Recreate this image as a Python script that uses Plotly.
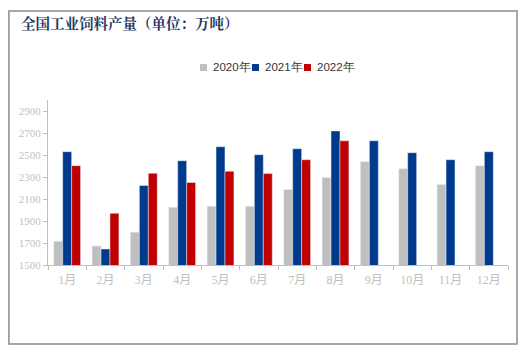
import plotly.graph_objects as go

months = ["1月", "2月", "3月", "4月", "5月", "6月", "7月", "8月", "9月", "10月", "11月", "12月"]
y2020 = [1717, 1672, 1798, 2024, 2033, 2033, 2186, 2295, 2439, 2376, 2232, 2403]
y2021 = [2530, 1645, 2223, 2448, 2575, 2503, 2557, 2719, 2629, 2521, 2457, 2530]
y2022 = [2403, 1970, 2334, 2250, 2352, 2331, 2457, 2629, None, None, None, None]
yticks = [1500, 1700, 1900, 2100, 2300, 2500, 2700, 2900]
series_names = ["2020年", "2021年", "2022年"]
series_colors = ["#bfbfbf", "#003a8c", "#c00000"]

fig = go.Figure()
for name, vals, col in zip(series_names, [y2020, y2021, y2022], series_colors):
    fig.add_bar(x=months, y=vals, name=name, marker_color=col, showlegend=False)

# compact legend (symbols + labels) placed like the original
shapes = [dict(type="rect", xref="paper", yref="paper", x0=-0.085, x1=1.0196,
               y0=-0.479, y1=1.539, line=dict(color="#8c8c8c", width=1.5), layer="below")]
annotations = [dict(text="<b>全国工业饲料产量（单位：万吨）</b>", xref="paper", yref="paper",
                    x=-0.063, y=1.472, xanchor="left", yanchor="middle", showarrow=False,
                    font=dict(family="Noto Serif CJK SC, Noto Sans CJK SC, serif", size=14.5,
                              color="#1f3864"))]
leg_x = [0.3304, 0.4435, 0.5565]
for lx, name, col in zip(leg_x, series_names, series_colors):
    shapes.append(dict(type="rect", xref="paper", yref="paper", x0=lx, x1=lx + 0.0152,
                       y0=1.176, y1=1.218, fillcolor=col, line=dict(width=0)))
    annotations.append(dict(text=name, xref="paper", yref="paper", x=lx + 0.024, y=1.197,
                            xanchor="left", yanchor="middle", showarrow=False,
                            font=dict(family="Liberation Sans, Arial, sans-serif", size=11.5,
                                      color="#333333")))

serif = "Liberation Serif, DejaVu Serif, Noto Sans CJK SC, serif"
fig.update_layout(
    width=527, height=350,
    margin=dict(l=48, r=19, t=100, b=85),
    paper_bgcolor="white", plot_bgcolor="white",
    barmode="group", bargap=0.3, bargroupgap=0,
    xaxis=dict(showline=True, linecolor="#bfbfbf", linewidth=1, ticks="outside",
               tickcolor="#bfbfbf", ticklen=4, tickson="boundaries",
               tickfont=dict(family=serif, size=12, color="#bfbfbf"),
               ticklabelstandoff=4, showgrid=False),
    yaxis=dict(range=[1500, 3000], tickvals=yticks, showline=True, linecolor="#bfbfbf",
               linewidth=1, ticks="outside", tickcolor="#bfbfbf", ticklen=4,
               tickfont=dict(family=serif, size=11, color="#bfbfbf"),
               showgrid=False, zeroline=False),
    shapes=shapes,
    annotations=annotations,
)
fig.write_html("out.html")
